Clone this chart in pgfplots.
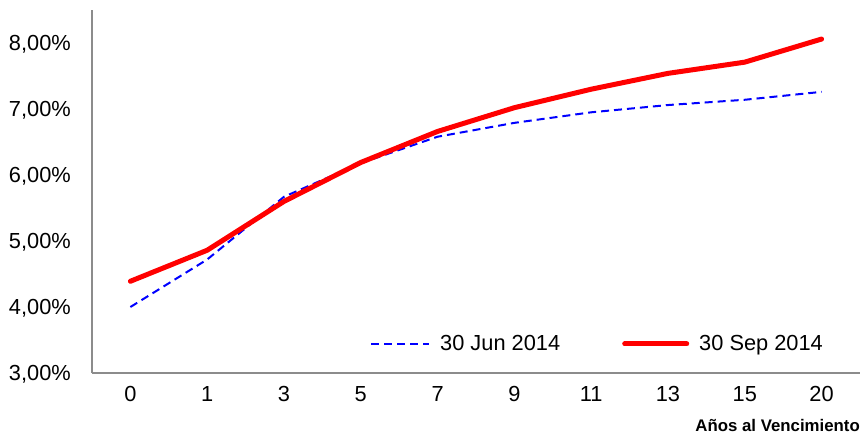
\documentclass[border=0pt]{standalone}
\usepackage{fontspec}
\setmainfont{Liberation Sans}
\usepackage{pgfplots}
\pgfplotsset{compat=1.18}
\definecolor{axisgray}{RGB}{140,140,140}

\begin{document}
\begin{tikzpicture}
\path[use as bounding box] (-92bp,-64bp) rectangle (770bp,373bp);
\begin{axis}[
  at={(0,0)}, anchor=south west,
  scale only axis, width=768bp, height=363bp,
  xmin=-0.5, xmax=9.5, ymin=3, ymax=8.5,
  axis x line=bottom, axis y line=left,
  axis line style={-, draw=axisgray, line width=1.3bp},
  xtick={0,...,9},
  xticklabels={0,1,3,5,7,9,11,13,15,20},
  ytick={3,4,5,6,7,8},
  yticklabels={{3,00\%},{4,00\%},{5,00\%},{6,00\%},{7,00\%},{8,00\%}},
  major tick length=0pt,
  tick label style={font=\fontsize{21.8bp}{26bp}\selectfont, inner sep=0pt},
  x tick label style={anchor=north, yshift=-13.5bp},
  y tick label style={anchor=base east, xshift=-21bp, yshift=-7.8bp},
  xlabel={Años al Vencimiento},
  xlabel style={at={(rel axis cs:1,0)}, anchor=east, yshift=-52bp,
    font=\fontsize{16.8bp}{20bp}\selectfont\bfseries, inner sep=0pt},
  legend columns=2,
  legend style={draw=none, fill=none, at={(rel axis cs:0.362,0.08)}, anchor=west,
    font=\fontsize{21.8bp}{26bp}\selectfont, inner sep=0pt,
    nodes={inner sep=0pt},
    /tikz/every even column/.append style={column sep=62bp},
    /tikz/every odd column/.append style={column sep=10bp},
    /tikz/column 3/.append style={column sep=5bp}},
  clip=false,
]
\addplot[blue, line width=2bp, dash pattern=on 8bp off 5bp,
  legend image code/.code={\draw[blue, line width=2bp, dash pattern=on 8bp off 5bp] (0bp,0bp) -- (58bp,0bp);}]
  coordinates {(0,4.00) (1,4.72) (2,5.67) (3,6.18) (4,6.58) (5,6.79) (6,6.95) (7,7.06) (8,7.14) (9,7.26)};
\addlegendentry{30 Jun 2014}
\addplot[red, line width=5bp, line cap=round, line join=round,
  legend image code/.code={\draw[red, line width=5bp, line cap=round] (0bp,0bp) -- (62bp,0bp);}]
  coordinates {(0,4.39) (1,4.86) (2,5.60) (3,6.19) (4,6.66) (5,7.02) (6,7.30) (7,7.54) (8,7.71) (9,8.06)};
\addlegendentry{30 Sep 2014}
\end{axis}
\end{tikzpicture}
\end{document}
